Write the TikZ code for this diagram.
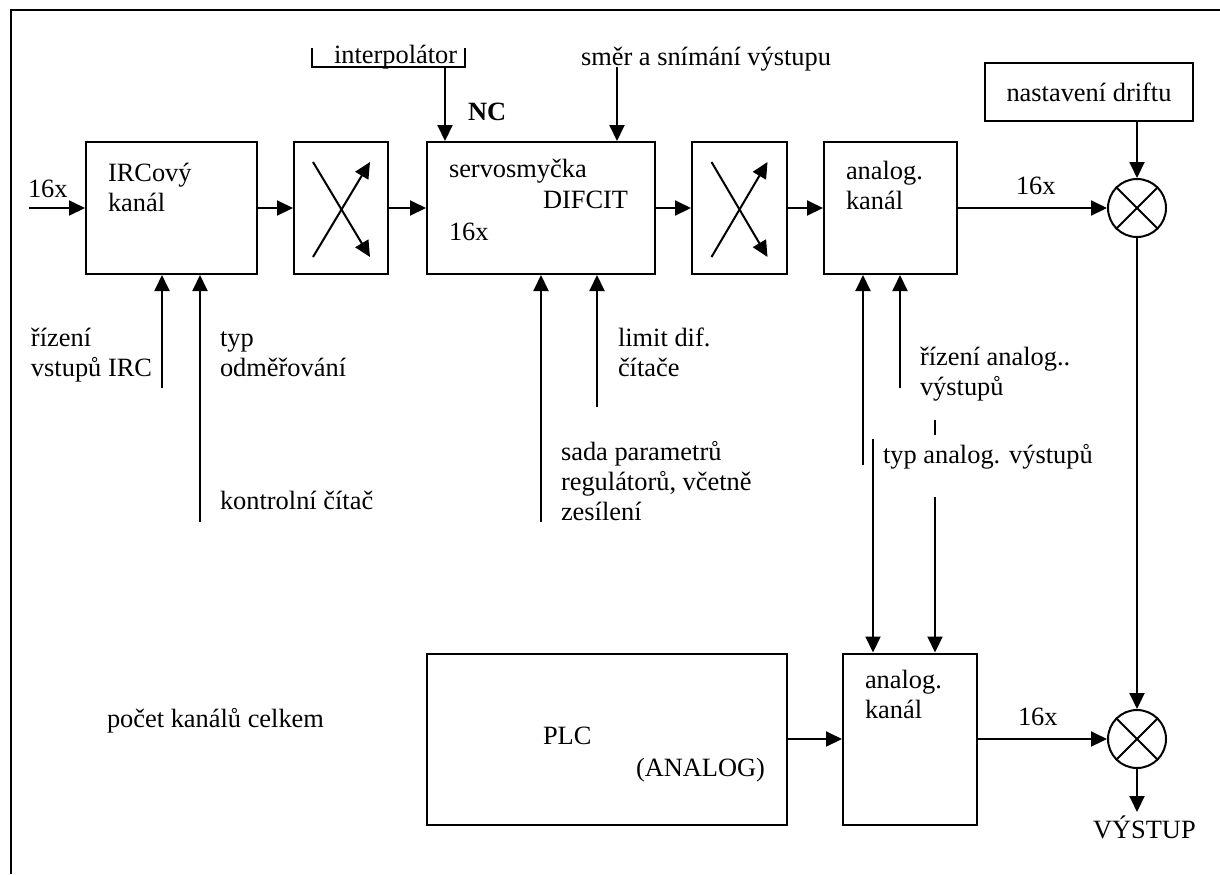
\documentclass[tikz,border=0pt]{standalone}
\usepackage{fontspec}
\setmainfont{Liberation Serif}
\usetikzlibrary{arrows.meta,calc}
\newcommand\mlines[1]{\vtop{\baselineskip=15pt\halign{##\hfil\cr#1\crcr}}}
\begin{document}
\begin{tikzpicture}[x=0.5pt,y=-0.5pt,line width=1pt,
  arr/.style={-{Triangle[length=8pt,width=7.5pt]}},
  box/.style={draw,minimum height=66pt,inner sep=0pt},
  sum/.style={draw,circle,minimum size=29pt,inner sep=0pt},
  txt/.style={anchor=base west,inner sep=0pt,font=\fontsize{13.2}{15}\selectfont},
  every node/.append style={font=\fontsize{13.2}{15}\selectfont}]
\useasboundingbox (0,0) rectangle (1220,874);
% frame
\draw (11,874) -- (11,10) -- (1220,10);
% upper row boxes
\node[box,minimum width=85.5pt] (irc) at (171.5,208) {};
\node[box,minimum width=47pt] (cr1) at (341,208) {};
\node[box,minimum width=114pt] (servo) at (541,208) {};
\node[box,minimum width=47.5pt] (cr2) at (739.5,208) {};
\node[box,minimum width=66.5pt] (ana1) at (890.5,208) {};
\node[box,minimum width=104pt,minimum height=29pt] (drift) at (1089,92) {nastavení driftu};
\node[sum] (s1) at (1137,208) {};
\draw (s1.45) -- (s1.225) (s1.135) -- (s1.315);
% lower row
\node[box,minimum width=180pt,minimum height=85.5pt] (plc) at (607,739) {};
\node[box,minimum width=67pt,minimum height=85.5pt] (ana2) at (910,739) {};
\node[sum] (s2) at (1137,739) {};
\draw (s2.45) -- (s2.225) (s2.135) -- (s2.315);
% box texts
\node[txt] (t-irc) at (107,181) {\mlines{IRCový\cr kanál}};
\node[txt] (t-servo) at (448,177) {servosmyčka};
\node[txt] (t-dif) at (542,208) {DIFCIT};
\node[txt] (t-16s) at (448,240) {16x};
\node[txt] (t-ana1) at (845,179) {\mlines{analog.\cr kanál}};
\node[txt] (t-plc) at (542,744) {PLC};
\node[txt] (t-an) at (635,776) {(ANALOG)};
\node[txt] (t-ana2) at (864,688) {\mlines{analog.\cr kanál}};
% cross arrows
\draw[arr] ($(cr1.center)+(-28,49)$) -- ($(cr1.center)+(29,-46)$);
\draw[arr] ($(cr1.center)+(-28,-46)$) -- ($(cr1.center)+(29,49)$);
\draw[arr] ($(cr2.center)+(-28,49)$) -- ($(cr2.center)+(28,-46)$);
\draw[arr] ($(cr2.center)+(-28,-46)$) -- ($(cr2.center)+(28,49)$);
% main flow
\coordinate (in) at (29,208);
\draw[arr] (in) -- (irc.west);
\node[txt] (l-in) at (27,197) {16x};
\draw[arr] (irc.east) -- (cr1.west);
\draw[arr] (cr1.east) -- (servo.west);
\draw[arr] (servo.east) -- (cr2.west);
\draw[arr] (cr2.east) -- (ana1.west);
\draw[arr] (ana1.east) -- (s1.west);
\node[txt] (l-16a) at (1015,194) {16x};
\draw[arr] (drift.south -| s1.north) -- (s1.north);
\draw[arr] (s1.south) -- (s2.north);
\draw[arr] (plc.east) -- (ana2.west);
\draw[arr] (ana2.east) -- (s2.west);
\node[txt] (l-16b) at (1017,725) {16x};
\coordinate (out) at (1137,812);
\draw[arr] (s2.south) -- (out);
\node[txt] (l-out) at (1092,838) {VÝSTUP};
% top inputs
\node[txt] (interp) at (333,63) {interpolátor};
\draw (312,48) -- (312,67) -- (465,67) -- (465,48);
\coordinate (nc) at (445,67);
\draw[arr] (nc) -- (nc |- servo.north);
\node[txt,font=\fontsize{13.2}{15}\selectfont\bfseries] (l-nc) at (467,120) {NC};
\node[txt] (smer) at (580,65) {směr a snímání výstupu};
\coordinate (sm) at (617,67);
\draw[arr] (sm) -- (sm |- servo.north);
% IRC bottom inputs
\coordinate (i1) at (162,388);
\coordinate (i2) at (200,522);
\draw[arr] (i1) -- (i1 |- irc.south);
\draw[arr] (i2) -- (i2 |- irc.south);
\node[txt] (l-i1) at (30,346) {\mlines{řízení\cr vstupů IRC}};
\node[txt] (l-i2) at (219,346) {\mlines{typ\cr odměřování}};
\node[txt] (l-i3) at (219,509) {kontrolní čítač};
% servo bottom inputs
\coordinate (v1) at (541,522);
\coordinate (v2) at (597,407);
\draw[arr] (v1) -- (v1 |- servo.south);
\draw[arr] (v2) -- (v2 |- servo.south);
\node[txt] (l-v2) at (617,346) {\mlines{limit dif.\cr čítače}};
\node[txt] (l-v1) at (560,460) {\mlines{sada parametrů\cr regulátorů, včetně\cr zesílení}};
% analog bottom inputs
\coordinate (a1) at (863,465);
\coordinate (a2) at (900,388);
\draw[arr] (a1) -- (a1 |- ana1.south);
\draw[arr] (a2) -- (a2 |- ana1.south);
\node[txt] (l-a2) at (919,365) {\mlines{řízení analog..\cr výstupů}};
\draw (935,420) -- (935,435);
\node[txt] (l-a3) at (882,463) {typ analog. výstupů};
\coordinate (b1) at (873,439);
\coordinate (b2) at (935,497);
\draw[arr] (b1) -- (b1 |- ana2.north);
\draw[arr] (b2) -- (b2 |- ana2.north);
% misc label
\node[txt] (l-pocet) at (106,727) {počet kanálů celkem};
\end{tikzpicture}
\end{document}
